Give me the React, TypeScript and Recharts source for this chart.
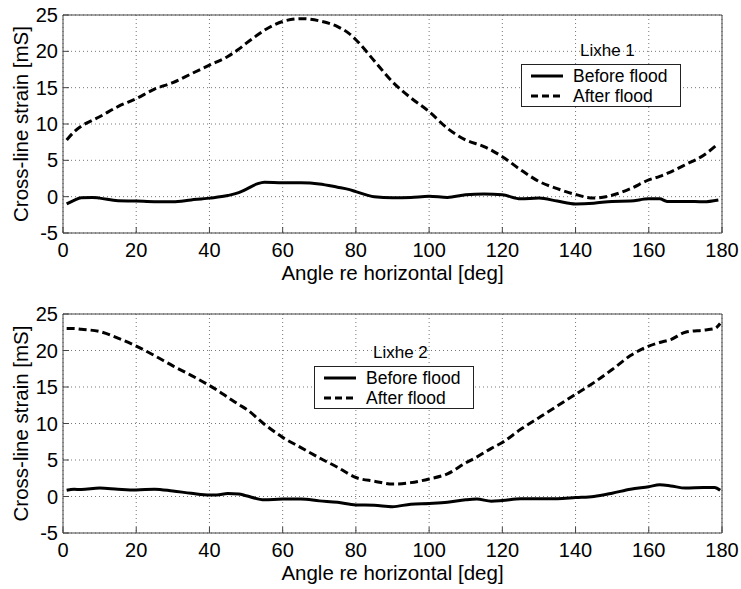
import React from "react";
import {
  LineChart,
  Line,
  XAxis,
  YAxis,
  CartesianGrid,
  ReferenceArea,
  Legend,
} from "recharts";

const FONT = "'Liberation Sans', Arial, Helvetica, sans-serif";

// x ticks / y ticks shared by both panels
const ANGLE_TICKS = [0, 20, 40, 60, 80, 100, 120, 140, 160, 180];
const STRAIN_TICKS = [-5, 0, 5, 10, 15, 20, 25];

// Lixhe 1
const ANGLES_1 = [
  1, 3, 5, 8, 10, 15, 20, 25, 30, 35, 40, 45, 48, 50, 53, 55, 60, 65, 70, 75,
  78, 80, 85, 90, 95, 100, 105, 110, 115, 120, 125, 130, 135, 140, 145, 150,
  155, 160, 163, 165, 170, 175, 179,
];
const BEFORE_1 = [
  -1.0, -0.5, -0.15, -0.1, -0.2, -0.55, -0.6, -0.7, -0.7, -0.45, -0.2, 0.15,
  0.55, 1.0, 1.75, 2.0, 1.9, 1.9, 1.75, 1.3, 1.0, 0.7, 0.0, -0.15, -0.1, 0.05,
  -0.1, 0.25, 0.35, 0.25, -0.3, -0.2, -0.6, -1.0, -0.9, -0.65, -0.6, -0.3,
  -0.3, -0.65, -0.65, -0.7, -0.45,
];
const AFTER_1 = [
  7.8, 8.9, 9.7, 10.5, 11.0, 12.4, 13.5, 14.8, 15.7, 16.9, 18.1, 19.3, 20.3,
  21.1, 22.2, 22.9, 24.1, 24.5, 24.2, 23.4, 22.5, 21.6, 18.7, 15.8, 13.6, 11.7,
  9.4, 7.8, 6.9, 5.5, 3.7, 2.1, 1.1, 0.3, -0.2, 0.2, 1.1, 2.3, 2.8, 3.2, 4.4,
  5.7, 7.3,
];

// Lixhe 2
const ANGLES_2 = [
  1, 3, 5, 10, 15, 20, 25, 30, 35, 40, 42, 45, 48, 50, 55, 60, 65, 70, 75, 80,
  85, 90, 95, 100, 105, 110, 113, 117, 120, 125, 130, 135, 140, 145, 150, 155,
  160, 163, 166, 170, 175, 178, 179.5,
];
const BEFORE_2 = [
  0.85, 1.0, 0.95, 1.15, 1.0, 0.9, 1.0, 0.75, 0.45, 0.2, 0.2, 0.4, 0.35, 0.1,
  -0.45, -0.35, -0.35, -0.6, -0.8, -1.15, -1.2, -1.4, -1.05, -0.95, -0.8,
  -0.45, -0.35, -0.65, -0.55, -0.3, -0.3, -0.3, -0.15, 0.0, 0.45, 1.0, 1.35,
  1.6, 1.45, 1.15, 1.25, 1.25, 0.85,
];
const AFTER_2 = [
  23.0, 23.0, 22.9, 22.6, 21.7, 20.6, 19.3, 17.9, 16.6, 15.2, 14.6, 13.6, 12.6,
  12.0, 9.9, 8.1, 6.7, 5.3, 4.0, 2.6, 2.1, 1.7, 1.9, 2.4, 3.1, 4.6, 5.4, 6.6,
  7.4, 9.2, 10.8, 12.4, 14.0, 15.6, 17.4, 19.3, 20.6, 21.1, 21.5, 22.5, 22.8,
  23.0, 23.7,
];

const SERIES = [
  { key: "before", name: "Before flood", dash: undefined, legendDash: undefined },
  { key: "after", name: "After flood", dash: "8 4", legendDash: "7 4" },
];

function buildRows(angles: number[], before: number[], after: number[]) {
  return angles.map((a, i) => ({ angle: a, before: before[i], after: after[i] }));
}

const XTick = (props: any) => {
  const { x, y, payload } = props;
  return (
    <g>
      <line x1={x} x2={x} y1={y - 10} y2={y - 16} stroke="#444" />
      <text x={x} y={y} dy="0.71em" textAnchor="middle" fontSize={20} fill="#000" fontFamily={FONT}>
        {payload.value}
      </text>
    </g>
  );
};

const YTick = (props: any) => {
  const { x, y, payload } = props;
  return (
    <g>
      <line x1={x + 5} x2={x + 11} y1={y} y2={y} stroke="#444" />
      <text x={x} y={y} dy="0.355em" textAnchor="end" fontSize={20} fill="#000" fontFamily={FONT}>
        {payload.value}
      </text>
    </g>
  );
};

const XTitle = (props: any) => {
  const { x, y, width } = props.viewBox;
  return (
    <text x={x + width / 2} y={y + 47} textAnchor="middle" fontSize={20.5} fill="#000" fontFamily={FONT}>
      Angle re horizontal [deg]
    </text>
  );
};

const YTitle = (props: any) => {
  const { x, y, height } = props.viewBox;
  const cx = x + 28;
  const cy = y + height / 2;
  return (
    <text
      x={cx}
      y={cy}
      transform={`rotate(-90 ${cx} ${cy})`}
      textAnchor="middle"
      fontSize={20.5}
      fill="#000"
      fontFamily={FONT}
    >
      Cross-line strain [mS]
    </text>
  );
};

function makeLegend(title: string) {
  return () => (
    <div style={{ fontFamily: FONT, color: "#000", width: 160 }}>
      <div style={{ fontSize: 17, lineHeight: "18px", paddingLeft: 59, height: 18 }}>{title}</div>
      <div
        style={{
          marginTop: 4,
          height: 43,
          boxSizing: "border-box",
          border: "1px solid #222",
          background: "#fff",
          paddingTop: 1,
        }}
      >
        {SERIES.map((s) => (
          <div key={s.key} style={{ display: "flex", alignItems: "center", height: 20 }}>
            <svg width={32} height={6} style={{ marginLeft: 9, marginRight: 10 }}>
              <line x1={0} x2={32} y1={3} y2={3} stroke="#000" strokeWidth={3} strokeDasharray={s.legendDash} />
            </svg>
            <span style={{ fontSize: 17.5, lineHeight: "20px", whiteSpace: "nowrap" }}>{s.name}</span>
          </div>
        ))}
      </div>
    </div>
  );
}

interface PanelProps {
  rows: { angle: number; before: number; after: number }[];
  title: string;
  height: number;
  top: number;
  xAxisHeight: number;
  legendLeft: number;
  legendTop: number;
}

function Panel({ rows, title, height, top, xAxisHeight, legendLeft, legendTop }: PanelProps) {
  return (
    <LineChart
      width={741}
      height={height}
      data={rows}
      margin={{ top, right: 19, bottom: 0, left: 0 }}
      style={{ fontFamily: FONT }}
    >
      <CartesianGrid stroke="#777" strokeDasharray="1 3" />
      <XAxis
        dataKey="angle"
        type="number"
        domain={[0, 180]}
        ticks={ANGLE_TICKS}
        allowDataOverflow
        axisLine={false}
        tickLine={false}
        tickSize={0}
        tickMargin={10}
        height={xAxisHeight}
        tick={<XTick />}
        interval={0}
        label={<XTitle />}
      />
      <YAxis
        type="number"
        domain={[-5, 25]}
        ticks={STRAIN_TICKS}
        allowDataOverflow
        axisLine={false}
        tickLine={false}
        tickSize={0}
        tickMargin={5}
        width={63}
        tick={<YTick />}
        interval={0}
        label={<YTitle />}
      />
      <ReferenceArea x1={0} x2={180} y1={-5} y2={25} fill="none" stroke="#444" strokeWidth={1} ifOverflow="visible" />
      {SERIES.map((s) => (
        <Line
          key={s.key}
          dataKey={s.key}
          name={s.name}
          type="monotone"
          stroke="#000"
          strokeWidth={3}
          strokeDasharray={s.dash}
          dot={false}
          activeDot={false}
          isAnimationActive={false}
        />
      ))}
      <Legend
        layout="horizontal"
        verticalAlign="middle"
        align="center"
        content={makeLegend(title)}
        wrapperStyle={{ left: legendLeft, top: legendTop, width: 160, height: 65 }}
      />
    </LineChart>
  );
}

export default function App() {
  const rows1 = buildRows(ANGLES_1, BEFORE_1, AFTER_1);
  const rows2 = buildRows(ANGLES_2, BEFORE_2, AFTER_2);
  return (
    <div style={{ position: "absolute", left: 0, top: 0, width: 741, height: 589, background: "#fff" }}>
      <div style={{ position: "absolute", left: 0, top: 0 }}>
        <Panel rows={rows1} title="Lixhe 1" height={290} top={15} xAxisHeight={57} legendLeft={521} legendTop={42} />
      </div>
      <div style={{ position: "absolute", left: 0, top: 290 }}>
        <Panel rows={rows2} title="Lixhe 2" height={299} top={24} xAxisHeight={56} legendLeft={314} legendTop={54} />
      </div>
    </div>
  );
}
